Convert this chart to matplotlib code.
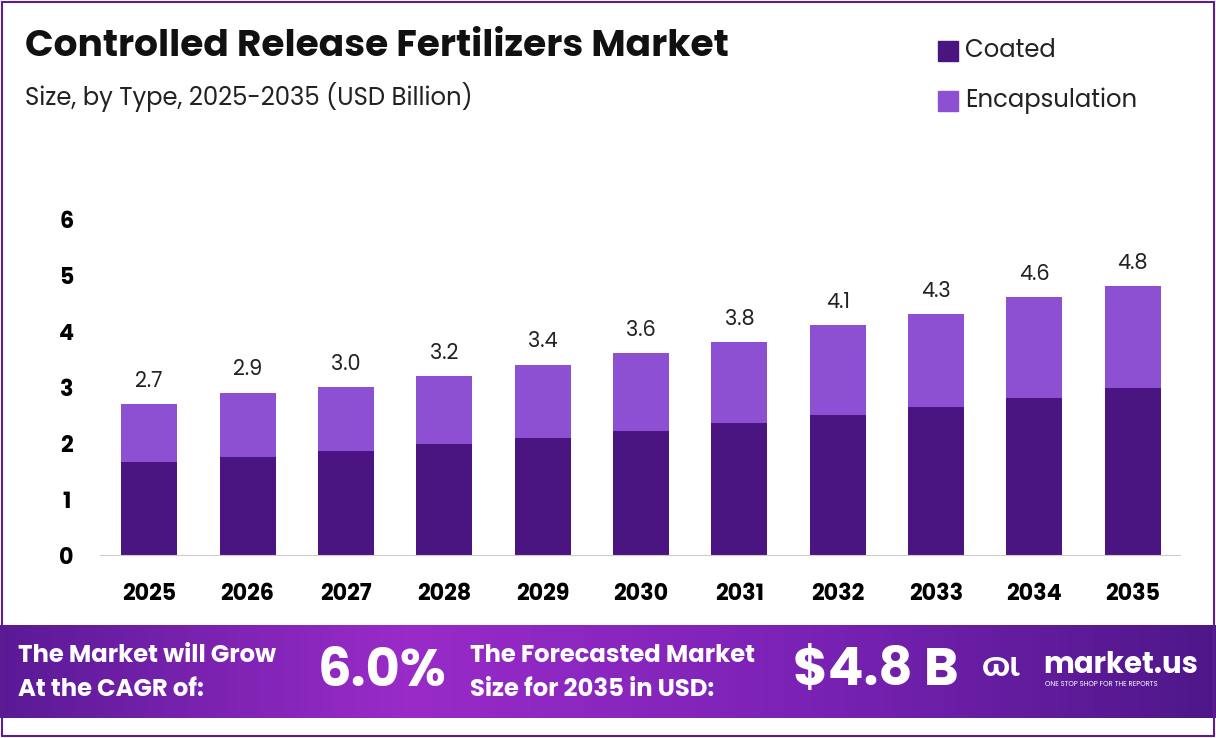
import matplotlib
matplotlib.use("Agg")
import matplotlib.pyplot as plt
import numpy as np
from matplotlib.patches import Rectangle
from matplotlib.colors import LinearSegmentedColormap

years = ["2025","2026","2027","2028","2029","2030","2031","2032","2033","2034","2035"]
totals = [2.7,2.9,3.0,3.2,3.4,3.6,3.8,4.1,4.3,4.6,4.8]
coated = [1.66,1.75,1.86,1.98,2.09,2.21,2.36,2.50,2.64,2.80,2.98]
encapsulation = [round(t-c,2) for t,c in zip(totals,coated)]

C1, C2 = "#4a1580", "#8d50d2"
plt.rcParams['font.family'] = ['Poppins','Lato','DejaVu Sans']
fig = plt.figure(figsize=(12.16,7.38), dpi=100)
W, H = 1216, 738
def fx(x): return x/W
def fy(y): return 1-y/H

fig.patches.append(Rectangle((fx(2),fy(736)), fx(1212), 734/H, transform=fig.transFigure,
                             fill=False, ec="#5b1d8f", lw=1.5))
ax = fig.add_axes([fx(100), fy(555), fx(1080), 336/H])
x = np.arange(len(years))
ax.bar(x, coated, width=0.57, color=C1, label="Coated")
ax.bar(x, encapsulation, width=0.57, bottom=coated, color=C2, label="Encapsulation")
for i,t in enumerate(totals):
    ax.text(i, t+0.2, f"{t:.1f}", ha="center", va="bottom", fontsize=15, color="#222")
ax.set_xlim(-0.5, 10.48)
ax.set_ylim(0, 6)
ax.set_yticks(range(7))
ax.set_xticks(x, years)
for s in ["top","right","left"]:
    ax.spines[s].set_visible(False)
ax.spines["bottom"].set_color("#cccccc")
ax.tick_params(length=0)
ax.tick_params(axis="x", pad=20)
ax.tick_params(axis="y", pad=24)
for lab in ax.get_xticklabels()+ax.get_yticklabels():
    lab.set_fontweight("bold"); lab.set_fontsize(16)
for lab in ax.get_yticklabels(): lab.set_ha("center")

fig.text(fx(25), fy(48), "Controlled Release Fertilizers Market", fontsize=27, fontweight="bold", va="center", color="#111")
fig.text(fx(25), fy(97), "Size, by Type, 2025-2035 (USD Billion)", fontsize=17.5, va="center", color="#222")
for yy, lab, c in [(51,"Coated",C1),(101,"Encapsulation",C2)]:
    fig.patches.append(Rectangle((fx(938),fy(yy+10)), fx(20), 20/H, transform=fig.transFigure, color=c))
    fig.text(fx(965), fy(yy), lab, fontsize=17.5, va="center", color="#222")

bax = fig.add_axes([0, fy(718), 1, 93/H])
grad = np.linspace(0,1,256).reshape(1,-1)
cm = LinearSegmentedColormap.from_list("g", ["#5a1a96","#9a2bc9","#7a22b5","#4e1789"])
bax.imshow(grad, aspect="auto", cmap=cm, extent=[0,1,0,1])
bax.set_axis_off()
fig.text(fx(18), fy(657), "The Market will Grow", fontsize=17.5, fontweight="bold", color="white", va="center")
fig.text(fx(18), fy(690), "At the CAGR of:", fontsize=17.5, fontweight="bold", color="white", va="center")
fig.text(fx(318), fy(673), "6.0%", fontsize=38, fontweight="bold", color="white", va="center")
fig.text(fx(470), fy(657), "The Forecasted Market", fontsize=17.5, fontweight="bold", color="white", va="center")
fig.text(fx(470), fy(690), "Size for 2035 in USD:", fontsize=17.5, fontweight="bold", color="white", va="center")
fig.text(fx(793), fy(673), "$4.8 B", fontsize=38, fontweight="bold", color="white", va="center")
fig.text(fx(982), fy(668), "ɷɩ", fontsize=26, fontweight="bold", color="white", va="center")
fig.text(fx(1043), fy(666), "market.us", fontsize=21, fontweight="bold", color="white", va="center")
fig.text(fx(1045), fy(685), "ONE STOP SHOP FOR THE REPORTS", fontsize=5, color="white", va="center")
fig.savefig("out.png", dpi=100)
